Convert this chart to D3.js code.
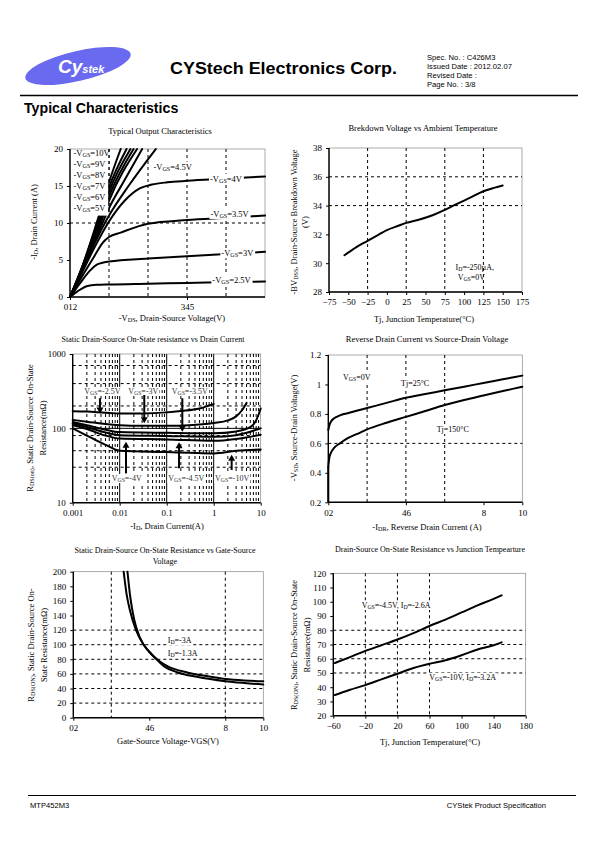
<!DOCTYPE html>
<html><head><meta charset="utf-8">
<script src="https://cdn.jsdelivr.net/npm/d3@7"></script>
<style>body{margin:0;background:#fff}svg{display:block}</style>
</head><body>
<svg id="c" width="595" height="842"></svg>
<script>
// ---------- DATA ----------
// Chart 1: Typical Output Characteristics
const outLabels = ["-V_{GS}=10V","-V_{GS}=9V","-V_{GS}=8V","-V_{GS}=7V","-V_{GS}=6V","-V_{GS}=5V","-V_{GS}=4.5V","-V_{GS}=4V","-V_{GS}=3.5V","-V_{GS}=3V","-V_{GS}=2.5V"];
const outCurves = [
  [[0,0],[0.3,3.9],[0.6,8.6],[0.8,12],[1.0,15.5],[1.3,20]],
  [[0,0],[0.3,3.9],[0.6,8.4],[0.8,11.6],[1.0,14.8],[1.45,20]],
  [[0,0],[0.3,3.8],[0.6,8.1],[0.8,11.1],[1.0,14.2],[1.55,20]],
  [[0,0],[0.3,3.7],[0.6,7.8],[0.8,10.7],[1.0,13.6],[1.63,20]],
  [[0,0],[0.3,3.6],[0.6,7.5],[0.8,10.2],[1.0,13.0],[1.72,20]],
  [[0,0],[0.3,3.5],[0.6,7.1],[0.8,9.6],[1.0,12.0],[1.4,15.8],[1.85,20]],
  [[0,0],[0.3,3.4],[0.6,6.9],[1.0,11.0],[1.5,15.0],[2.2,20]],
  [[0,0],[0.3,3.2],[0.6,6.4],[1.0,10.2],[1.4,13.0],[1.8,14.7],[2.1,15.2],[2.5,15.5],[3,15.7],[4,16.0],[5,16.3]],
  [[0,0],[0.3,2.7],[0.6,5.3],[0.85,7.4],[1.0,8.1],[1.3,8.7],[2,9.9],[3,10.4],[4,10.7],[5,11.0]],
  [[0,0],[0.25,1.8],[0.5,3.5],[0.7,4.4],[1,4.8],[2,5.2],[3,5.5],[4,5.8],[5,6.1]],
  [[0,0],[0.2,0.8],[0.45,1.5],[0.7,1.65],[1,1.7],[2,1.8],[3,1.9],[4,2.0],[5,2.1]]
];
const outLabelPos = [[0.09,19.05],[0.09,17.55],[0.09,16.12],[0.09,14.63],[0.09,13.13],[0.09,11.63],[2.14,17.2],[3.59,15.58],[3.6,10.82],[3.88,5.51],[3.65,1.9]];
const outXTicks = [0,3], outXTickLabels = ["012","345"], outYTicks = [0,5,10,15,20];
const outXGrid = [1,2,3,4], outYGrid = [10];

// Chart 2: Breakdown voltage vs temperature
const bvTemp = [-55,-40,-25,-10,0,15,25,40,60,75,90,110,125,140,150];
const bvVolt = [30.55,31.1,31.55,32.0,32.3,32.6,32.8,33.0,33.35,33.7,34.1,34.6,35.0,35.25,35.4];
const bvXTicks = [-75,-50,-25,0,25,50,75,100,125,150,175], bvYTicks = [28,30,32,34,36,38];
const bvXGrid = [-25,25,75,125], bvYGrid = [34,36];

// Chart 3: RDS(on) vs drain current (log-log)
const rdsIdLabels = ["V_{GS}=-2.5V","V_{GS}=-3V","V_{GS}=-3.5V","V_{GS}=-4V","V_{GS}=-4.5V","V_{GS}=-10V"];
const rdsIdCurves = [
  [[0.001,170],[0.002,168],[0.005,162],[0.01,159],[0.03,159],[0.1,164],[0.2,171],[0.5,185],[0.8,203],[1,212]],
  [[0.001,130],[0.002,123],[0.005,114],[0.01,110],[0.03,108],[0.1,108],[0.3,110],[1,118],[2,128],[3,145],[4,175],[5,220]],
  [[0.001,122],[0.002,110],[0.005,96],[0.01,89],[0.1,87],[0.5,86],[1,86],[3,91],[6,104],[8,128],[10,185]],
  [[0.001,116],[0.002,104],[0.005,88],[0.01,81],[0.1,79],[1,77],[3,81],[10,100]],
  [[0.001,110],[0.002,98],[0.005,80],[0.01,73],[0.1,71],[1,68],[3,72],[10,82]],
  [[0.001,100],[0.002,80],[0.005,60],[0.01,50],[0.1,48],[0.3,47],[1,46],[3,50],[10,52]]
];
const rdsIdLabelPos = [[0.00177,290],[0.0152,290],[0.128,290],[0.00676,19.6],[0.108,19.6],[1.07,19.6]];
const rdsIdArrows = [[0.0038,254,159],[0.0333,281,117],[0.215,254,90],[0.0136,24.8,66],[0.183,29,65],[2.41,27.5,44]];
const rdsIdXTicks = [0.001,0.01,0.1,1,10], rdsIdXTickLabels = ["0.001","0.01","0.1","1","10"];
const rdsIdYTicks = [10,100,1000], rdsIdYTickLabels = ["10","100","1000"];
const rdsIdYGrid = [30,50,80,200,400,700];

// Chart 4: Reverse drain current vs source-drain voltage
const sdI25 = [0,0.05,0.15,0.3,0.6,1,2,3,4,5,6,7,8,9,10];
const sdV25 = [0.69,0.72,0.75,0.77,0.79,0.805,0.84,0.875,0.91,0.935,0.96,0.985,1.01,1.035,1.06];
const sdI150 = [0,0.05,0.15,0.3,0.6,1,1.5,2,3,4,5,6,7,8,9,10];
const sdV150 = [0.44,0.5,0.54,0.57,0.6,0.635,0.665,0.695,0.74,0.78,0.82,0.86,0.895,0.925,0.955,0.985];
const sdXTicks = [0,4,8,10], sdXTickLabels = ["02","46","8","10"];
const sdYTicks = [0.2,0.4,0.6,0.8,1.0,1.2], sdYTickLabels = ["0.2","0.4","0.6","0.8","1","1.2"];
const sdXGrid = [2,4,6], sdYGrid = [0.6];

// Chart 5: RDS(on) vs gate-source voltage
const vgsA = [2.85,3.0,3.2,3.5,4.0,4.5,5,6,7,8,9,10];
const rA = [200,165,135,110,90,78,70,62,57,53,51,50];
const vgsB = [2.65,2.8,3.0,3.3,3.7,4.2,4.8,5.5,6.5,8,9,10];
const rB = [200,170,145,120,100,85,70,62,56,50,47.5,45.5];
const vgXTicks = [0,4,8,10], vgXTickLabels = ["02","46","8","10"];
const vgYTicks = [0,20,40,60,80,100,120,140,160,180,200];
const vgXGrid = [2,8], vgYGrid = [20,40,60,80,100,120];

// Chart 6: RDS(on) vs junction temperature
const tjT = [-58,-40,-20,0,20,40,60,80,100,120,140,150];
const rdsHi = [57,61,65.5,69.5,73.5,78,83,87.5,92.5,97.5,102,104.5];
const rdsLo = [34.5,38,41.5,45.5,49.5,53.5,56.5,59,62.5,66.5,69.5,71.5];
const tjXTicks = [-60,-20,20,60,100,140,180];
const tjYTicks = [20,30,40,50,60,70,80,90,100,110,120];
const tjXGrid = [-20,20,60], tjYGrid = [50,60,70,80];

// ---------- DRAWING ----------
const svg = d3.select("#c");
const SERIF = "'Liberation Serif','Times New Roman',serif";
const SANS = "'Liberation Sans',Arial,sans-serif";

function rich(g, x, y, str, size, anchor, bg){
  const t = g.append("text").attr("x",x).attr("y",y).attr("font-family",SERIF)
    .attr("font-size",size).attr("text-anchor",anchor||"start").attr("fill","#000");
  const parts = str.split(/(_\{[^}]*\})/);
  let shift = 0; const sub = size*0.12;
  parts.forEach(p=>{
    if(!p) return;
    const m = p.match(/^_\{(.*)\}$/);
    if(m){ t.append("tspan").attr("font-size",size*0.72).attr("dy",sub-shift).text(m[1]); shift=sub; }
    else { t.append("tspan").attr("dy",-shift).text(p); shift=0; }
  });
  if(bg){
    const b = t.node().getBBox();
    g.insert("rect",()=>t.node()).attr("x",b.x-1).attr("y",b.y).attr("width",b.width+2).attr("height",b.height).attr("fill","#fff");
  }
  return t;
}

function panel(x0,y0,w,h){
  const g = svg.append("g").attr("transform",`translate(${x0},${y0})`);
  g.append("rect").attr("width",w).attr("height",h).attr("fill","#fff").attr("stroke","#888").attr("stroke-width",0.7);
  return g;
}
function grid(g,xs,ys,xv,yv,w,h){
  g.selectAll(null).data(xv).enter().append("line")
    .attr("x1",d=>xs(d)).attr("x2",d=>xs(d)).attr("y1",0).attr("y2",h)
    .attr("stroke","#000").attr("stroke-width",1).attr("stroke-dasharray","3,3");
  g.selectAll(null).data(yv).enter().append("line")
    .attr("y1",d=>ys(d)).attr("y2",d=>ys(d)).attr("x1",0).attr("x2",w)
    .attr("stroke","#000").attr("stroke-width",1).attr("stroke-dasharray","3,3");
}
function axes(g,xs,ys,w,h,xt,xf,yt,yf){
  const ax = g.append("g").attr("transform",`translate(0,${h})`)
    .call(d3.axisBottom(xs).tickValues(xt).tickFormat(xf).tickSize(3).tickPadding(4));
  const ay = g.append("g").call(d3.axisLeft(ys).tickValues(yt).tickFormat(yf).tickSize(3).tickPadding(4));
  [ax,ay].forEach(a=>{
    a.attr("font-family",SERIF);
    a.select(".domain").remove();
    a.selectAll("text").attr("font-family",SERIF).attr("font-size",9).attr("fill","#000");
    a.selectAll("line").attr("stroke","#000");
  });
  g.append("line").attr("x1",0).attr("x2",0).attr("y1",0).attr("y2",h).attr("stroke","#000").attr("stroke-width",1.4);
  g.append("line").attr("x1",0).attr("x2",w).attr("y1",h).attr("y2",h).attr("stroke","#000").attr("stroke-width",1.4);
}
function curve(g,xs,ys,pts,curveType){
  g.append("path").datum(pts).attr("fill","none").attr("stroke","#000").attr("stroke-width",2)
    .attr("stroke-linejoin","round").attr("stroke-linecap","round")
    .attr("d",d3.line().x(d=>xs(d[0])).y(d=>ys(d[1])).curve(curveType||d3.curveMonotoneX));
}
function title(x,y,str,size){ rich(svg,x,y,str,size||8.5,"middle"); }
function ylabel(x,y,str,size){
  const g = svg.append("g").attr("transform",`translate(${x},${y}) rotate(-90)`);
  rich(g,0,0,str,size||8.5,"middle");
}

// ---------- HEADER ----------
svg.append("ellipse").attr("cx",78).attr("cy",66).attr("rx",54).attr("ry",15)
  .attr("transform","rotate(-13,78,66)").attr("fill","#6a6af0");
const logo = svg.append("text").attr("x",58).attr("y",73).attr("font-family",SANS).attr("font-weight","bold").attr("fill","#fff").attr("font-style","italic");
logo.append("tspan").attr("font-size",19).text("Cy");
logo.append("tspan").attr("font-size",11).text("stek");
svg.append("text").attr("x",170).attr("y",74).attr("font-family",SANS).attr("font-weight","bold")
  .attr("font-size",17).attr("textLength",227).attr("lengthAdjust","spacingAndGlyphs").text("CYStech Electronics Corp.");
const spec = ["Spec. No. : C426M3","Issued Date : 2012.02.07","Revised Date :","Page No. : 3/8"];
spec.forEach((s,i)=>svg.append("text").attr("x",427).attr("y",60+i*9).attr("font-family",SANS).attr("font-size",7.6).text(s));
svg.append("line").attr("x1",20).attr("x2",578).attr("y1",95.5).attr("y2",95.5).attr("stroke","#000").attr("stroke-width",1.3);
svg.append("text").attr("x",24).attr("y",113).attr("font-family",SANS).attr("font-weight","bold").attr("font-size",14.2).text("Typical Characteristics");
// footer
svg.append("line").attr("x1",28).attr("x2",576).attr("y1",795.5).attr("y2",795.5).attr("stroke","#000").attr("stroke-width",1.2);
svg.append("text").attr("x",30).attr("y",808).attr("font-family",SANS).attr("font-size",7.6).text("MTP452M3");
svg.append("text").attr("x",546).attr("y",808).attr("text-anchor","end").attr("font-family",SANS).attr("font-size",7.6).text("CYStek Product Specification");

// ---------- CHART 1 ----------
(function(){
  const x0=70,y0=149,w=195,h=148;
  const g = panel(x0,y0,w,h);
  const xs = d3.scaleLinear().domain([0,5]).range([0,w]);
  const ys = d3.scaleLinear().domain([0,20]).range([h,0]);
  grid(g,xs,ys,outXGrid,outYGrid,w,h);
  const cg = g.append("g");
  outCurves.forEach(c=>curve(cg,xs,ys,c));
  g.append("rect").attr("x",xs(0.02)).attr("y",ys(20)+1).attr("width",xs(0.98)-xs(0.02)).attr("height",ys(11.0)-ys(20)-1).attr("fill","#fff");
  g.append("line").attr("x1",xs(1)).attr("x2",xs(1)).attr("y1",0).attr("y2",ys(11)).attr("stroke","#000").attr("stroke-dasharray","3,3");
  outLabels.forEach((l,i)=>rich(g,xs(outLabelPos[i][0]),ys(outLabelPos[i][1]),l,8.5,"start",i>=6));
  axes(g,xs,ys,w,h,outXTicks,(d,i)=>outXTickLabels[i],outYTicks,d3.format("d"));
  title(160,134,"Typical Output Characteristics",8.5);
  ylabel(37,222,"-I_{D}, Drain Current (A)",8.5);
  rich(svg,172,321,"-V_{DS}, Drain-Source Voltage(V)",8.5,"middle");
})();

// ---------- CHART 2 ----------
(function(){
  const x0=329,y0=148,w=193,h=144;
  const g = panel(x0,y0,w,h);
  const xs = d3.scaleLinear().domain([-75,175]).range([0,w]);
  const ys = d3.scaleLinear().domain([28,38]).range([h,0]);
  grid(g,xs,ys,bvXGrid,bvYGrid,w,h);
  curve(g,xs,ys,bvTemp.map((t,i)=>[t,bvVolt[i]]));
  rich(g,xs(89),ys(29.53),"I_{D}=-250µA,",8,"start");
  rich(g,xs(91.7),ys(28.83),"V_{GS}=0V",8,"start");
  axes(g,xs,ys,w,h,bvXTicks,d3.format("d"),bvYTicks,d3.format("d"));
  title(423,131,"Brekdown Voltage vs Ambient Temperature",8.5);
  ylabel(297,222,"-BV_{DSS}, Drain-Source Breakdown Voltage",8.5);
  ylabel(308,222,"(V)",8.5);
  rich(svg,424,322,"Tj, Junction Temperature(°C)",8.5,"middle");
})();

// ---------- CHART 3 ----------
(function(){
  const x0=72.7,y0=354,w=188,h=148.7;
  const g = panel(x0,y0,w,h);
  const xs = d3.scaleLog().domain([0.001,10]).range([0,w]);
  const ys = d3.scaleLog().domain([10,1000]).range([h,0]);
  const minorX = [];
  [0.001,0.01,0.1,1].forEach(d=>{for(let k=2;k<=9;k++) minorX.push(d*k);});
  grid(g,xs,ys,minorX,rdsIdYGrid,w,h);
  g.selectAll(null).data([0.01,0.1,1]).enter().append("line").attr("x1",d=>xs(d)).attr("x2",d=>xs(d)).attr("y1",0).attr("y2",h).attr("stroke","#000").attr("stroke-width",1);
  g.append("line").attr("x1",0).attr("x2",w).attr("y1",ys(100)).attr("y2",ys(100)).attr("stroke","#000").attr("stroke-width",1);
  rdsIdCurves.forEach(c=>curve(g,xs,ys,c));
  rdsIdLabels.forEach((l,i)=>rich(g,xs(rdsIdLabelPos[i][0]),ys(rdsIdLabelPos[i][1]),l,8,"start",true).attr("fill","#333"));
  rdsIdArrows.forEach(a=>{
    const x=xs(a[0]), y1=ys(a[1]), y2=ys(a[2]), dir = y2>y1?1:-1;
    g.append("line").attr("x1",x).attr("x2",x).attr("y1",y1).attr("y2",y2-dir*5).attr("stroke","#000").attr("stroke-width",2);
    g.append("path").attr("d",`M${x-3.5},${y2-dir*6}L${x+3.5},${y2-dir*6}L${x},${y2}Z`).attr("fill","#000");
  });
  axes(g,xs,ys,w,h,rdsIdXTicks,(d,i)=>rdsIdXTickLabels[i],rdsIdYTicks,(d,i)=>rdsIdYTickLabels[i]);
  title(153,342,"Static Drain-Source On-State resistance vs Drain Current",8);
  ylabel(33,428,"R_{DS(on)}, Static Drain-Source On-State",8.5);
  ylabel(46,428,"Resistance(mΩ)",8.5);
  rich(svg,167,529,"-I_{D}, Drain Current(A)",8.5,"middle");
})();

// ---------- CHART 4 ----------
(function(){
  const x0=328.3,y0=355,w=194,h=147.3;
  const g = panel(x0,y0,w,h);
  const xs = d3.scaleLinear().domain([0,10]).range([0,w]);
  const ys = d3.scaleLinear().domain([0.2,1.2]).range([h,0]);
  grid(g,xs,ys,sdXGrid,sdYGrid,w,h);
  curve(g,xs,ys,sdI25.map((v,i)=>[v,sdV25[i]]));
  curve(g,xs,ys,sdI150.map((v,i)=>[v,sdV150[i]]));
  g.append("line").attr("x1",xs(0)).attr("x2",xs(0)).attr("y1",ys(0.2)).attr("y2",ys(0.44)).attr("stroke","#000").attr("stroke-width",2);
  rich(g,xs(0.76),ys(1.03),"V_{GS}=0V",8,"start",true);
  rich(g,xs(3.75),ys(0.99),"Tj=25°C",8,"start",true);
  rich(g,xs(5.59),ys(0.677),"Tj=150°C",8,"start",true);
  axes(g,xs,ys,w,h,sdXTicks,(d,i)=>sdXTickLabels[i],sdYTicks,(d,i)=>sdYTickLabels[i]);
  title(427,342,"Reverse Drain Current vs Source-Drain Voltage",8.5);
  ylabel(297,428,"-V_{SD}, Source-Drain Voltage(V)",8.5);
  rich(svg,427,530,"-I_{DR}, Reverse Drain Current (A)",8.5,"middle");
})();

// ---------- CHART 5 ----------
(function(){
  const x0=73.3,y0=571.7,w=190,h=146;
  const g = panel(x0,y0,w,h);
  const xs = d3.scaleLinear().domain([0,10]).range([0,w]);
  const ys = d3.scaleLinear().domain([0,200]).range([h,0]);
  grid(g,xs,ys,vgXGrid,vgYGrid,w,h);
  curve(g,xs,ys,vgsA.map((v,i)=>[v,rA[i]]));
  curve(g,xs,ys,vgsB.map((v,i)=>[v,rB[i]]));
  rich(g,xs(4.97),ys(102.3),"I_{D}=-3A",8,"start",true);
  rich(g,xs(4.97),ys(84.5),"I_{D}=-1.3A",8,"start",true);
  axes(g,xs,ys,w,h,vgXTicks,(d,i)=>vgXTickLabels[i],vgYTicks,d3.format("d"));
  title(165,553,"Static Drain-Source On-State Resistance vs Gate-Source",8);
  title(165,564,"Voltage",8);
  ylabel(34,645,"R_{DS(ON)}, Static Drain-Source On-",8.5);
  ylabel(47,645,"State Resistance(mΩ)",8.5);
  rich(svg,168,744,"Gate-Source Voltage-VGS(V)",8.5,"middle");
})();

// ---------- CHART 6 ----------
(function(){
  const x0=333.3,y0=573.3,w=192.4,h=142.4;
  const g = panel(x0,y0,w,h);
  const xs = d3.scaleLinear().domain([-60,180]).range([0,w]);
  const ys = d3.scaleLinear().domain([20,120]).range([h,0]);
  grid(g,xs,ys,tjXGrid,tjYGrid,w,h);
  curve(g,xs,ys,tjT.map((t,i)=>[t,rdsHi[i]]));
  curve(g,xs,ys,tjT.map((t,i)=>[t,rdsLo[i]]));
  rich(g,xs(-24.6),ys(95.6),"V_{GS}=-4.5V, I_{D}=-2.6A",8,"start",true);
  rich(g,xs(59.7),ys(45.1),"V_{GS}=-10V, I_{D}=-3.2A",8,"start",true);
  axes(g,xs,ys,w,h,tjXTicks,d3.format("d"),tjYTicks,d3.format("d"));
  title(430,552,"Drain-Source On-State Resistance vs Junction Tempearture",8);
  ylabel(297,645,"R_{DS(ON)}, Static Drain-Source On-State",8.5);
  ylabel(310,645,"Resistance(mΩ)",8.5);
  rich(svg,430,745,"Tj, Junction Temperature(°C)",8.5,"middle");
})();
</script>
</body></html>
